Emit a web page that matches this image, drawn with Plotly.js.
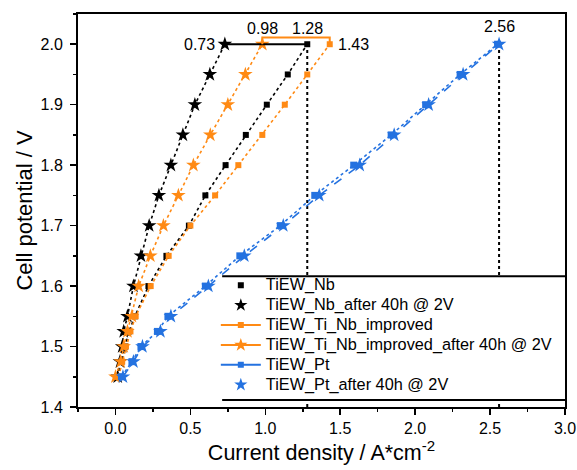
<!DOCTYPE html>
<html>
<head>
<meta charset="utf-8">
<script src="https://cdn.plot.ly/plotly-3.0.1.min.js"></script>
<style>
html,body{margin:0;padding:0;background:#fff;}
#chart{width:577px;height:470px;}
.legendtext{font-size:16.3px !important;}
</style>
</head>
<body>
<div id="chart"></div>
<script>
// Cell potential (V) for every measurement point
const potential = [1.45, 1.475, 1.5, 1.525, 1.55, 1.6, 1.65, 1.7, 1.75, 1.8, 1.85, 1.9, 1.95, 2.0];
// Current density (A/cm^2) per series
const tiewNb            = [0.02, 0.04, 0.065, 0.09, 0.13, 0.22, 0.34, 0.49, 0.60, 0.735, 0.87, 1.01, 1.15, 1.28];
const tiewNbAfter       = [0.015, 0.03, 0.045, 0.055, 0.08, 0.12, 0.17, 0.225, 0.29, 0.37, 0.45, 0.53, 0.63, 0.73];
const tiewTiNbImp       = [0.02, 0.045, 0.07, 0.10, 0.135, 0.235, 0.355, 0.50, 0.665, 0.82, 0.98, 1.13, 1.28, 1.43];
const tiewTiNbImpAfter  = [0.0, 0.035, 0.055, 0.08, 0.11, 0.155, 0.233, 0.32, 0.42, 0.52, 0.633, 0.75, 0.867, 0.98];
const tiewPt            = [0.04, 0.11, 0.17, 0.28, 0.35, 0.60, 0.83, 1.10, 1.33, 1.59, 1.84, 2.07, 2.30, 2.55];
const tiewPtAfter       = [0.05, 0.12, 0.18, 0.30, 0.37, 0.62, 0.86, 1.12, 1.36, 1.63, 1.86, 2.09, 2.32, 2.56];
const seriesNames = ["TiEW_Nb", "TiEW_Nb_after 40h @ 2V", "TiEW_Ti_Nb_improved",
                     "TiEW_Ti_Nb_improved_after 40h @ 2V", "TiEW_Pt", "TiEW_Pt_after 40h @ 2V"];
const xTickVals = [0.0, 0.5, 1.0, 1.5, 2.0, 2.5, 3.0];
const yTickVals = [1.4, 1.5, 1.6, 1.7, 1.8, 1.9, 2.0];

const BLACK = '#000000', ORANGE = '#FF8A14', BLUE = '#2472E0';
const last = a => a[a.length - 1];
const vTop = last(potential);

const series = [
  {x: tiewNb, color: BLACK, sym: 'square', size: 6, dash: 'dot', leg: 'markers'},
  {x: tiewNbAfter, color: BLACK, sym: 'star', size: 11, dash: 'dot', leg: 'markers'},
  {x: tiewTiNbImp, color: ORANGE, sym: 'square', size: 6, dash: 'dot', leg: 'lines+markers'},
  {x: tiewTiNbImpAfter, color: ORANGE, sym: 'star', size: 11, dash: 'dot', leg: 'lines+markers'},
  {x: tiewPt, color: BLUE, sym: 'square', size: 7, dash: 'dot', leg: 'lines+markers'},
  {x: tiewPtAfter, color: BLUE, sym: 'star', size: 11, dash: 'dash', leg: 'markers'}
];

const traces = [];
series.forEach((s, i) => {
  traces.push({
    x: s.x, y: potential, type: 'scatter', mode: 'lines+markers', showlegend: false,
    line: {color: s.color, width: 1.6, dash: s.dash},
    marker: {symbol: s.sym, size: s.size, color: s.color}, hoverinfo: 'skip'
  });
});
series.forEach((s, i) => {
  traces.push({
    x: [null], y: [null], type: 'scatter', mode: s.leg, name: seriesNames[i], showlegend: true,
    line: {color: s.color, width: 2, dash: 'solid'},
    marker: {symbol: s.sym, size: s.sym === 'star' ? 10 : 6, color: s.color}
  });
});

const shapes = [
  // vertical dotted guide lines
  {type: 'line', xref: 'x', yref: 'y', x0: last(tiewNb), x1: last(tiewNb), y0: 1.4, y1: vTop,
   line: {color: BLACK, width: 2, dash: 'dot'}, layer: 'below'},
  {type: 'line', xref: 'x', yref: 'y', x0: last(tiewPtAfter), x1: last(tiewPtAfter), y0: 1.4, y1: vTop,
   line: {color: BLACK, width: 2, dash: 'dot'}, layer: 'below'},
  // horizontal connectors at 2 V
  {type: 'line', xref: 'x', yref: 'y', x0: last(tiewNbAfter), x1: last(tiewNb), y0: vTop, y1: vTop,
   line: {color: BLACK, width: 2}},
  {type: 'path', xref: 'x', yref: 'y',
   path: `M ${last(tiewTiNbImpAfter)},${vTop} L ${last(tiewTiNbImpAfter)},${vTop + 0.011} L ${last(tiewTiNbImp)},${vTop + 0.011} L ${last(tiewTiNbImp)},${vTop + 0.003}`,
   line: {color: ORANGE, width: 2}},
  // legend background and borders
  {type: 'rect', xref: 'paper', yref: 'paper', x0: 0.296, x1: 1, y0: 0.018, y1: 0.333,
   fillcolor: '#ffffff', line: {width: 0}, layer: 'above'},
  {type: 'line', xref: 'paper', yref: 'paper', x0: 0.296, x1: 1, y0: 0.333, y1: 0.333,
   line: {color: BLACK, width: 2}, layer: 'above'},
  {type: 'line', xref: 'paper', yref: 'paper', x0: 0.296, x1: 1, y0: 0.018, y1: 0.018,
   line: {color: BLACK, width: 2}, layer: 'above'}
];

const annFont = {family: 'Liberation Sans, Arial, sans-serif', size: 16, color: '#000'};
const annotations = [
  {x: last(tiewNbAfter), y: vTop, text: last(tiewNbAfter).toFixed(2), xanchor: 'right', yanchor: 'middle', xshift: -8, showarrow: false, font: annFont},
  {x: last(tiewTiNbImpAfter), y: vTop, text: last(tiewTiNbImpAfter).toFixed(2), xanchor: 'center', yanchor: 'bottom', yshift: 5, showarrow: false, font: annFont},
  {x: last(tiewNb), y: vTop, text: last(tiewNb).toFixed(2), xanchor: 'center', yanchor: 'bottom', yshift: 5, showarrow: false, font: annFont},
  {x: last(tiewTiNbImp), y: vTop, text: last(tiewTiNbImp).toFixed(2), xanchor: 'left', yanchor: 'middle', xshift: 6, showarrow: false, font: annFont},
  {x: last(tiewPtAfter), y: vTop, text: last(tiewPtAfter).toFixed(2), xanchor: 'center', yanchor: 'bottom', yshift: 7, showarrow: false, font: annFont}
];

const layout = {
  width: 577, height: 470,
  margin: {l: 78, r: 12, t: 14, b: 63},
  paper_bgcolor: '#fff', plot_bgcolor: '#fff',
  font: {family: 'Liberation Sans, Arial, sans-serif', color: '#000'},
  xaxis: {
    range: [-0.25, 3.0], tickvals: xTickVals, ticktext: xTickVals.map(v => v.toFixed(1)),
    ticks: 'outside', ticklen: 6, tickwidth: 1.5, tickcolor: '#000',
    minor: {dtick: 0.25, tick0: 0, ticks: 'outside', ticklen: 3, tickwidth: 1.5, tickcolor: '#000'},
    showline: true, linecolor: '#000', linewidth: 2, mirror: true,
    showgrid: false, zeroline: false, tickfont: {size: 16}, ticklabelstandoff: 0,
    title: {text: 'Current density / A*cm<sup>-2</sup>', font: {size: 21.5}, standoff: 9}
  },
  yaxis: {
    range: [1.4, 2.05], tickvals: yTickVals, ticktext: yTickVals.map(v => v.toFixed(1)),
    ticks: 'outside', ticklen: 6, tickwidth: 1.5, tickcolor: '#000',
    minor: {dtick: 0.05, tick0: 1.4, ticks: 'outside', ticklen: 3, tickwidth: 1.5, tickcolor: '#000'},
    showline: true, linecolor: '#000', linewidth: 2, mirror: true,
    showgrid: false, zeroline: false, tickfont: {size: 16}, ticklabelstandoff: 4,
    title: {text: 'Cell potential / V', font: {size: 22}, standoff: 2}
  },
  legend: {
    x: 0.283, y: 0.017, xanchor: 'left', yanchor: 'bottom',
    bgcolor: 'rgba(0,0,0,0)', borderwidth: 0,
    font: {family: 'Liberation Sans, Arial, sans-serif', size: 13},
    itemwidth: 40, tracegroupgap: 0
  },
  shapes: shapes,
  annotations: annotations,
  showlegend: true
};

Plotly.newPlot('chart', traces, layout, {displayModeBar: false, staticPlot: true});
</script>
</body>
</html>
